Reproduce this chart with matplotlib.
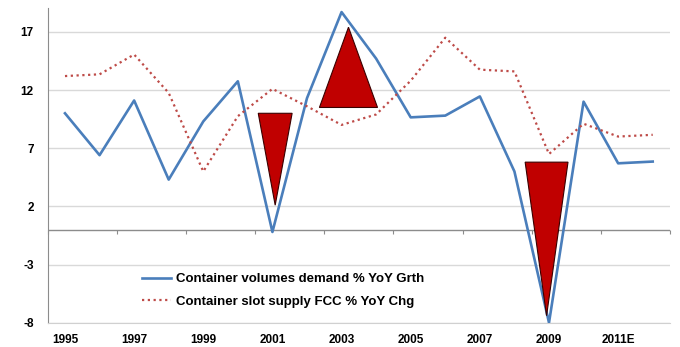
import numpy as np
import matplotlib
matplotlib.use("Agg")
from matplotlib import pyplot as plt
from matplotlib.patches import Polygon

# data
years = ['1995', '1996', '1997', '1998', '1999', '2000', '2001', '2002', '2003',
         '2004', '2005', '2006', '2007', '2008', '2009', '2010', '2011E', '2012']
demand = [10.0, 6.4, 11.1, 4.3, 9.3, 12.75, -0.2, 11.3, 18.7,
          14.7, 9.65, 9.8, 11.45, 5.0, -8.0, 11.0, 5.7, 5.85]
supply = [13.2, 13.35, 15.05, 11.75, 5.0, 9.75, 12.1, 10.6, 9.0,
          9.9, 12.8, 16.5, 13.75, 13.6, 6.5, 9.1, 8.0, 8.15]
# red triangle call-outs: year, from, to
tri_year = ['2001', '2003', '2009']
tri_from = [10.0, 10.5, 5.8]
tri_to = [2.1, 17.4, -7.4]
yticks = [-8, -3, 2, 7, 12, 17]

plt.rcParams['font.family'] = ['Liberation Sans', 'DejaVu Sans']
plt.rcParams['font.weight'] = 'bold'

fig = plt.figure(figsize=(6.8, 3.47), dpi=100)
ax = fig.add_axes([47.7 / 680, 1 - 322.7 / 347, (670 - 47.7) / 680, (322.7 - 8) / 347])

x = np.arange(len(years))
ax.plot(x, demand, color='#4a7ebb', lw=1.9, label='Container volumes demand % YoY Grth', zorder=3)
ax.plot(x, supply, color='#be4b48', lw=1.6, ls=(0, (1, 1.6)), label='Container slot supply FCC % YoY Chg', zorder=3)

# triangles
offs = [0.08, 0.2, -0.07]
halfw = [0.49, 0.84, 0.62]
for i in range(len(tri_year)):
    xc = years.index(tri_year[i]) + offs[i]
    pts = [(xc - halfw[i], tri_from[i]), (xc + halfw[i], tri_from[i]), (xc, tri_to[i])]
    ax.add_patch(Polygon(pts, closed=True, facecolor='#c00000', edgecolor='#3a0000', lw=0.8, zorder=4))

ax.set_xlim(-0.5, len(years) - 0.5)
ax.set_ylim(-8, 19.05)
ax.set_yticks(yticks)
ax.set_yticklabels([str(t) for t in yticks], fontsize=8.5, fontweight='bold')
ax.tick_params(axis='y', length=0, pad=10)
ax.grid(axis='y', color='#d9d9d9', lw=1)
ax.set_axisbelow(True)

# labels every other year at the bottom
ax.set_xticks(x[::2])
ax.set_xticklabels(years[::2], fontsize=8.5, fontweight='bold')
ax.tick_params(axis='x', length=0, pad=8)

for s in ['top', 'right']:
    ax.spines[s].set_visible(False)
ax.spines['left'].set_color('#8c8c8c')
ax.spines['bottom'].set_color('#d0d0d0')

# zero line with tick marks between categories
ax.axhline(0, color='#8c8c8c', lw=1, zorder=2)
loc0 = (0 - (-8)) / (19.05 + 8)
sec = ax.secondary_xaxis(loc0)
sec.set_xticks(np.arange(-0.5, len(years), 2))
sec.set_xticklabels([])
sec.tick_params(axis='x', length=3, color='#8c8c8c', direction='out')
sec.spines['bottom'].set_visible(False)
sec.spines['top'].set_visible(False)

leg = ax.legend(loc='upper left', bbox_to_anchor=(142 / 680, 1 - 273 / 347),
                bbox_transform=fig.transFigure, frameon=False, fontsize=9.5,
                handlelength=2.2, handletextpad=0.4, labelspacing=0.8,
                borderpad=0, borderaxespad=0)
for t in leg.get_texts():
    t.set_fontweight('bold')

fig.savefig('out.png', dpi=100)
